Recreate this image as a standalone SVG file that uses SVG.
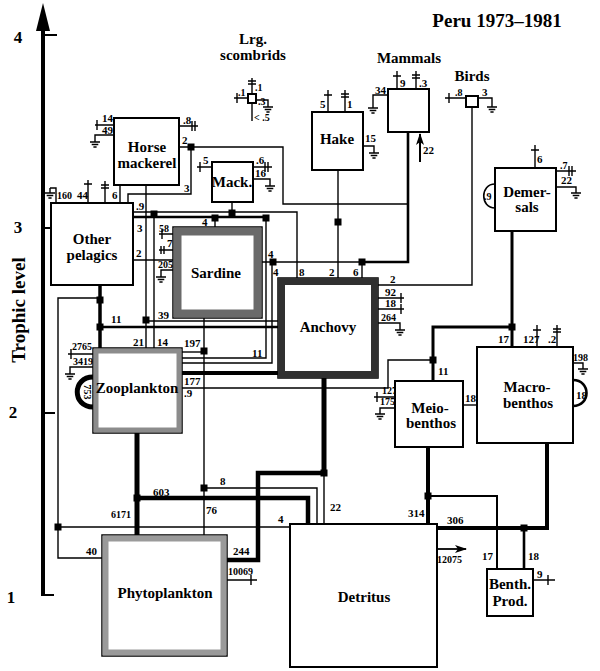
<svg xmlns="http://www.w3.org/2000/svg" width="600" height="671" viewBox="0 0 600 671">
<style>
.b{fill:#fff;stroke:#000;stroke-width:2}
.t{stroke-width:1.4}
.m{stroke-width:2.6}
.k{stroke-width:4.5}
.nl{font-family:"Liberation Serif","Times New Roman",serif;font-weight:bold;font-size:15px;text-anchor:middle;fill:#000}
.n{font-family:"Liberation Serif","Times New Roman",serif;font-weight:bold;font-size:11px;fill:#000}
.s{font-size:10px}
</style>
<defs>
<g id="gnd"><path d="M0,0V5M-5,5H5M-3.3,7.5H3.3M-1.6,10H1.6" fill="none" stroke="#000" stroke-width="1.4"/></g>
<rect id="sq" x="-3.5" y="-3.5" width="7" height="7" fill="#000" stroke="none"/>
<marker id="ah" viewBox="0 0 12 8" refX="11" refY="4" markerWidth="12" markerHeight="8" orient="auto" markerUnits="userSpaceOnUse"><path d="M0,0 L12,4 L0,8 L3,4 Z" fill="#000" stroke="none"/></marker>
</defs>
<rect width="600" height="671" fill="#fff"/>

<!-- axis -->
<g id="axis">
<path d="M43,26V596" stroke="#000" stroke-width="4" fill="none"/>
<polygon points="43,3 36,31 50,31" fill="#000"/>
<path d="M43,35H57M43,228H51M43,413H55M43,595H54" stroke="#000" stroke-width="2.2" fill="none"/>
<text class="nl" x="18" y="43" style="font-size:17px">4</text>
<text class="nl" x="18" y="233" style="font-size:17px">3</text>
<text class="nl" x="13" y="418" style="font-size:17px">2</text>
<text class="nl" x="11" y="603" style="font-size:17px">1</text>
<text class="nl" transform="translate(25,310) rotate(-90)" style="font-size:19px">Trophic level</text>
</g>
<text class="nl" x="497" y="27" style="font-size:19px">Peru 1973–1981</text>

<!-- connectors -->
<g id="connectors" fill="none" stroke="#000" stroke-width="1.4">
<!-- Horse mackerel -->
<path d="M95,125H114M97,120V130"/>
<path d="M114,135H95V137"/><use href="#gnd" x="95" y="137"/>
<path d="M180,126H198M192,121V131M195,121V131"/>
<path d="M180,147H283V204H408"/>
<path d="M191,147V194H128V203"/>
<use href="#sq" x="191" y="147"/>
<path d="M120,185V203"/>
<path d="M146,185V348"/>
<path d="M154,214V348"/>
<!-- Other pelagics -->
<path d="M56,203V188H50"/><use href="#gnd" x="50" y="188"/>
<path d="M88,203V180M84,184H92"/>
<path d="M105,203V181M101,185H109M101,188H109"/>
<path d="M133,212H297V278"/>
<path d="M232,202V212"/>
<path class="m" d="M133,217H266"/>
<path d="M215,217V227"/>
<path d="M266,217V358H182"/>
<path d="M133,260H173"/>
<path d="M100,285V348" stroke-width="3.5"/>
<path d="M100,298H58V558H102"/>
<path d="M58,527H290"/>
<path d="M146,321H278"/>
<path class="m" d="M100,327H278"/>
<!-- Sardine -->
<path d="M173,234H159M162,229V239"/>
<path d="M173,250H159M161,246V254M164,246V254"/>
<path d="M173,270H161V272"/><use href="#gnd" x="161" y="272"/>
<path d="M204,318V535"/>
<path d="M182,352H204"/>
<path d="M204,488H317V524"/>
<path d="M182,363H272V262"/>
<path d="M262,262H362"/>
<path class="m" d="M362,262H408V132"/>
<path d="M362,262V278"/>
<!-- Mack -->
<path d="M212,167H197M200,162V172"/>
<path d="M253,167H272M265,162V172M268,162V172"/>
<path d="M253,179H270V181"/><use href="#gnd" x="270" y="181"/>
<!-- Hake -->
<path d="M328,112V90M324,95H332"/>
<path d="M345,112V90M341,94H349M341,97H349"/>
<path d="M363,146H374V148"/><use href="#gnd" x="374" y="148"/>
<path d="M338,170V278"/>
<!-- Lrg scombrids -->
<path d="M248,98H234M237,93V103"/>
<path d="M252,94V78M248,81H256M248,84H256"/>
<path d="M256,100H268V102"/><use href="#gnd" x="268" y="102"/>
<path d="M252,103V121"/>
<!-- Mammals -->
<path d="M388,95H373V103"/><use href="#gnd" x="373" y="103"/>
<path d="M397,89V71M393,76H401"/>
<path d="M416,89V71M412,75H420M412,78H420"/>
<path d="M420,162V134" marker-end="url(#ah)" stroke-width="2"/>
<!-- Birds -->
<path d="M466,98H445M449,93V103"/>
<path d="M478,98H492V102"/><use href="#gnd" x="492" y="102"/>
<path d="M472,107V285H378"/>
<!-- Anchovy -->
<path d="M378,298H404M401,293V303"/>
<path d="M378,309H404M401,304V314"/>
<path d="M378,323H400V325"/><use href="#gnd" x="400" y="325"/>
<path d="M324,378V473" stroke-width="5"/>
<path class="k" d="M324,473H258V560H227"/>
<path d="M324,473V524"/>
<!-- Zooplankton -->
<path d="M182,373H280" stroke-width="4"/>
<path d="M182,388H388V360H433"/>
<path d="M93,354H68M71,349V359"/>
<path d="M93,367H70V369"/><use href="#gnd" x="70" y="369"/>
<path d="M93,377C72,377 72,407 93,407" stroke-width="5"/>
<path d="M137,433V535" stroke-width="5"/>
<path class="k" d="M137,498H308V524"/>
<!-- Demersals -->
<path d="M535,168V145M531,150H539"/>
<path d="M556,171H576M569,166V176M572,166V176"/>
<path d="M556,187H576V188"/><use href="#gnd" x="576" y="188"/>
<path d="M495,184C480,184 480,208 495,208" stroke-width="1.6"/>
<path d="M512,231V347" stroke-width="3"/>
<path d="M512,327H433V381" stroke-width="3"/>
<!-- Meiobenthos -->
<path d="M463,405H477"/>
<path d="M395,397H374M377,392V402"/>
<path d="M395,408H380V409"/><use href="#gnd" x="380" y="409"/>
<path d="M428,447V524" stroke-width="4"/>
<path d="M428,496H497V569" stroke-width="2"/>
<!-- Macrobenthos -->
<path d="M537,347V325M533,330H541"/>
<path d="M557,347V325M553,329H561M553,332H561"/>
<path d="M573,363H583V364"/><use href="#gnd" x="583" y="364"/>
<path class="m" d="M573,380C591,380 591,406 573,406"/>
<path d="M547,443V528H437" stroke-width="4"/>
<path class="m" d="M524,528V569"/>
<!-- Benth prod, detritus, phyto -->
<path d="M533,580H555M548,575V585"/>
<path d="M437,549H466" marker-end="url(#ah)" stroke-width="1.8"/>
<path d="M227,580H257M251,575V585"/>
<!-- junction squares -->
<use href="#sq" x="154" y="214"/>
<use href="#sq" x="232" y="213"/>
<use href="#sq" x="215" y="218"/>
<use href="#sq" x="266" y="218"/>
<use href="#sq" x="146" y="320"/>
<use href="#sq" x="100" y="300"/>
<use href="#sq" x="100" y="327"/>
<use href="#sq" x="58" y="527"/>
<use href="#sq" x="204" y="351"/>
<use href="#sq" x="204" y="488"/>
<use href="#sq" x="273" y="262"/>
<use href="#sq" x="362" y="262"/>
<use href="#sq" x="338" y="222"/>
<use href="#sq" x="433" y="360"/>
<use href="#sq" x="512" y="327"/>
<use href="#sq" x="324" y="473"/>
<use href="#sq" x="137" y="498"/>
<use href="#sq" x="428" y="496"/>
<use href="#sq" x="524" y="528"/>
</g>

<!-- flow labels -->
<g id="flow-labels" class="n">
<text x="102" y="122">14</text><text x="102" y="134">49</text>
<text x="183" y="124">.8</text><text x="182" y="144">2</text><text x="184" y="192">3</text>
<text class="s" x="57" y="199">160</text><text x="77" y="199">44</text><text x="112" y="199">6</text>
<text x="136" y="210">.9</text><text x="137" y="232">3</text><text x="136" y="257">2</text>
<text class="s" x="159" y="232">58</text><text x="167" y="247">7</text><text class="s" x="158" y="268">205</text>
<text x="158" y="319">39</text><text x="111" y="323">11</text><text x="202" y="226">4</text>
<text x="203" y="164">5</text><text x="256" y="164">.6</text><text x="255" y="177">16</text>
<text x="299" y="276">8</text><text x="329" y="276">2</text><text x="353" y="276">6</text>
<text x="273" y="276">4</text><text x="268" y="258">4</text>
<text x="390" y="283">2</text><text x="385" y="296">92</text><text x="385" y="307">18</text><text class="s" x="381" y="321">264</text>
<text x="320" y="108">5</text><text x="347" y="108">1</text><text x="365" y="142">15</text>
<text x="375" y="94">34</text><text x="400" y="87">9</text><text x="419" y="87">.3</text><text x="423" y="154">22</text>
<text class="s" x="238" y="96">.1</text><text class="s" x="255" y="91">.1</text><text class="s" x="258" y="105">.3</text><text class="s" x="254" y="121">&lt; .5</text>
<text class="s" x="455" y="96">.8</text><text x="482" y="96">3</text>
<text x="537" y="163">6</text><text class="s" x="560" y="169">.7</text><text x="561" y="184">22</text><text class="s" x="484" y="200">.9</text>
<text x="184" y="347">197</text><text x="133" y="346">21</text><text x="157" y="346">14</text>
<text x="184" y="385">177</text><text x="184" y="397">.9</text>
<text class="s" x="72" y="350">2765</text><text class="s" x="73" y="365">3419</text>
<text class="s" transform="translate(84,392) rotate(90)" text-anchor="middle">753</text>
<text x="252" y="357">11</text>
<text class="s" x="382" y="394">127</text><text class="s" x="380" y="405">175</text>
<text x="438" y="375">11</text><text x="465" y="402">18</text>
<text x="498" y="343">17</text><text x="523" y="343">127</text><text x="548" y="343">.2</text>
<text class="s" x="573" y="361">198</text><text x="576" y="399">18</text>
<text x="220" y="485">8</text><text x="153" y="496">603</text><text class="s" x="111" y="518">6171</text>
<text x="206" y="514">76</text><text x="330" y="511">22</text><text x="278" y="523">4</text>
<text x="86" y="555">40</text><text x="233" y="555">244</text><text class="s" x="228" y="575">10069</text>
<text x="408" y="517">314</text><text x="447" y="524">306</text><text class="s" x="437" y="563">12075</text>
<text x="482" y="560">17</text><text x="528" y="560">18</text><text x="537" y="578">9</text>
</g>

<!-- nodes -->
<g id="horse-mackerel"><rect class="b" x="114" y="118" width="65" height="67"/><text class="nl" x="147" y="152">Horse</text><text class="nl" x="147" y="168">mackerel</text></g>
<g id="other-pelagics"><rect class="b" x="51" y="203" width="82" height="82"/><text class="nl" x="92" y="244">Other</text><text class="nl" x="92" y="260">pelagics</text></g>
<g id="mack"><rect class="b" x="212" y="162" width="41" height="40"/><text class="nl" x="232" y="187">Mack.</text></g>
<g id="hake"><rect class="b" x="312" y="112" width="51" height="58"/><text class="nl" x="337" y="144">Hake</text></g>
<g id="lrg-scombrids"><rect class="b" x="248" y="94" width="8" height="9"/><text class="nl" x="253" y="44">Lrg.</text><text class="nl" x="253" y="60">scombrids</text></g>
<g id="mammals"><rect class="b" x="388" y="89" width="41" height="43"/><text class="nl" x="409" y="63">Mammals</text></g>
<g id="birds"><rect class="b" x="466" y="96" width="12" height="11"/><text class="nl" x="472" y="81">Birds</text></g>
<g id="demersals"><rect class="b" x="495" y="168" width="61" height="63"/><text class="nl" x="527" y="197">Demer-</text><text class="nl" x="527" y="212">sals</text></g>
<g id="sardine"><rect x="173" y="227" width="89" height="91" fill="#fff" stroke="#000" stroke-width="1.5"/><rect x="177.5" y="231.5" width="80" height="82" fill="none" stroke="#6a6a6a" stroke-width="8"/><text class="nl" x="216" y="278">Sardine</text></g>
<g id="anchovy"><rect x="278" y="278" width="100" height="100" fill="#fff" stroke="#000" stroke-width="1.5"/><rect x="281.5" y="281.5" width="93" height="93" fill="none" stroke="#303030" stroke-width="7"/><text class="nl" x="328" y="332">Anchovy</text></g>
<g id="zooplankton"><rect x="93" y="348" width="89" height="85" fill="#fff" stroke="#000" stroke-width="1.5"/><rect x="96" y="351" width="83" height="79" fill="none" stroke="#8c8c8c" stroke-width="5"/><text class="nl" x="137" y="393">Zooplankton</text></g>
<g id="meiobenthos"><rect class="b" x="395" y="381" width="68" height="66"/><text class="nl" x="430" y="413">Meio-</text><text class="nl" x="431" y="428">benthos</text></g>
<g id="macrobenthos"><rect class="b" x="477" y="347" width="96" height="96"/><text class="nl" x="527" y="392">Macro-</text><text class="nl" x="528" y="408">benthos</text></g>
<g id="phytoplankton"><rect x="102" y="535" width="125" height="121" fill="#fff" stroke="#000" stroke-width="1.5"/><rect x="105.5" y="538.5" width="118" height="114" fill="none" stroke="#9a9a9a" stroke-width="6"/><text class="nl" x="165" y="598">Phytoplankton</text></g>
<g id="detritus"><rect class="b" x="290" y="524" width="147" height="143"/><text class="nl" x="364" y="602">Detritus</text></g>
<g id="benthic-producers"><rect class="b" x="487" y="569" width="46" height="47"/><text class="nl" x="510" y="589">Benth.</text><text class="nl" x="510" y="606">Prod.</text></g>
</svg>
